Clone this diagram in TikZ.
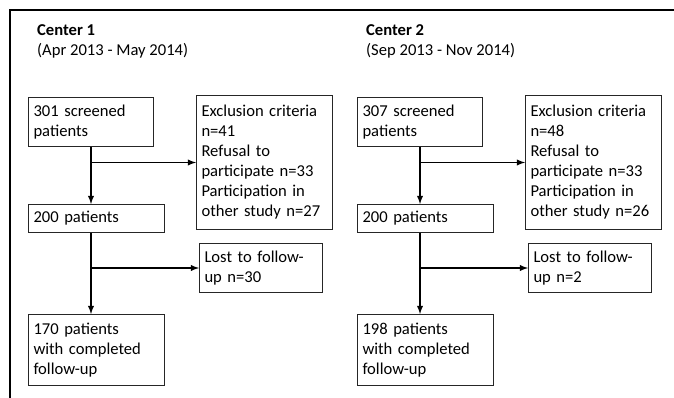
\documentclass[tikz,border=0pt]{standalone}
\usepackage{fontspec}
\setmainfont{Carlito}
\usepackage{tikz}
\tikzset{>=latex}
\usetikzlibrary{calc,positioning}
\tikzset{
  box/.style={draw=black!85, line width=1pt, rectangle, anchor=north west,
              inner xsep=5pt, inner ysep=0pt, align=left,
              font=\fontsize{16.6}{20}\selectfont},
  flow/.style={->, line width=1.8pt}
}

\begin{document}
\begin{tikzpicture}[x=1pt,y=-1pt]
            \useasboundingbox (0,0) rectangle (674,398);
            \fill[white] (0,0) rectangle (674,398);
            % frame
            \draw[line width=2.5pt] (674,10) -- (10,10) -- (10,398);

            \foreach \i/\dx/\when/\scr/\ex/\part/\lost/\fin in
              {1/0/Apr 2013 - May 2014/301/41/27/30/170,
               2/329/Sep 2013 - Nov 2014/307/48/26/2/198}
            {
            \node[anchor=north west, inner sep=0pt, align=left,
                  font=\fontsize{16.6}{20}\selectfont] (title\i) at (37+\dx,24)
                  {\textbf{Center \i}\\(\when)};

            \node[box, text width=115pt, minimum height=49pt] (scr\i) at (28+\dx,97)
                  {\scr\ screened\\patients};
            \node[box, text width=126pt, minimum height=134pt] (excl\i) at (196+\dx,95)
                  {Exclusion criteria\\n=\ex\\Refusal to\\participate n=33\\Participation in\\other study n=\part};
            \node[box, text width=126pt, minimum height=28pt] (pat\i) at (28+\dx,204)
                  {200 patients};
            \node[box, text width=113pt, minimum height=49pt] (lost\i) at (199+\dx,243)
                  {Lost to follow-\\up n=\lost};
            \node[box, text width=126pt, minimum height=71pt] (fin\i) at (28+\dx,314)
                  {\fin\ patients\\with completed\\follow-up};

            \draw[flow] (scr\i.south) -- (scr\i.south |- pat\i.north);
            \draw[flow] (scr\i.south |- excl\i.west) -- (excl\i.west);
            \draw[flow] (scr\i.south |- pat\i.south) -- (scr\i.south |- fin\i.north);
            \draw[flow] (scr\i.south |- lost\i.west) -- (lost\i.west);
            }
\end{tikzpicture}
\end{document}
